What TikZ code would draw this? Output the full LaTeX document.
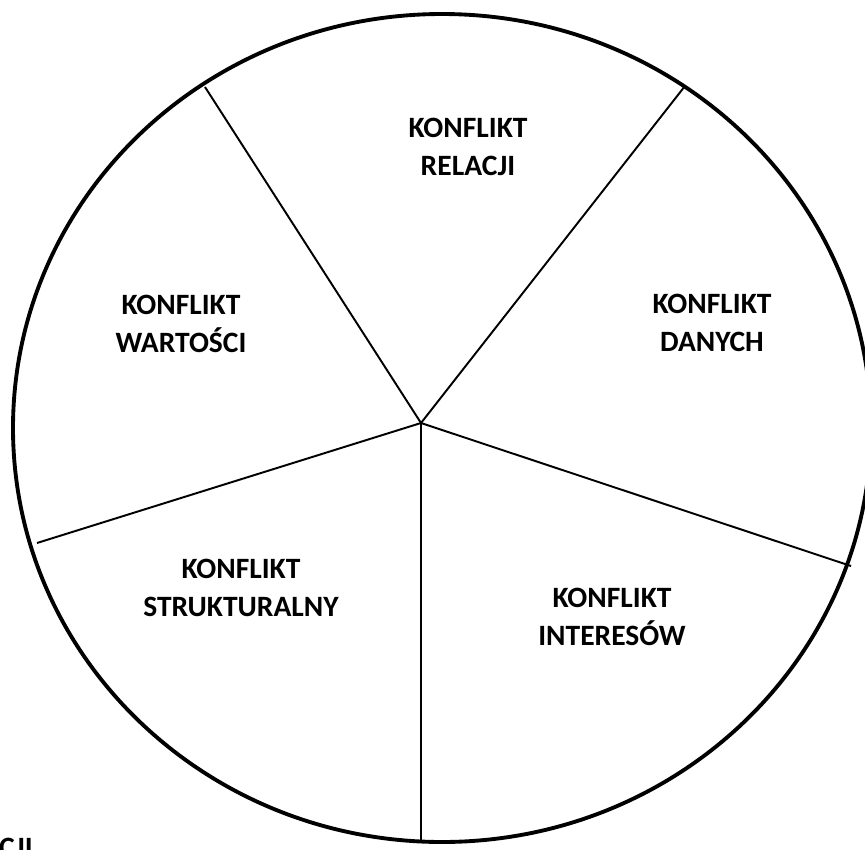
\documentclass[tikz,border=0pt]{standalone}
\usepackage{fontspec}
\setmainfont{Carlito}
\usetikzlibrary{positioning,calc}
\begin{document}
\begin{tikzpicture}[x=0.02cm,y=-0.02cm,
        rim/.style={line width=2.2pt},
        spoke/.style={line width=1.1pt},
        sector/.style={align=center,inner sep=0pt,font=\bfseries\fontsize{16.8}{21.5}\selectfont}]
        \useasboundingbox (0,0) rectangle (865,849);
        \clip (0,0) rectangle (865,849);
        \draw[rim] (442,428) ellipse [x radius=429, y radius=414];
        % spokes of the wheel
        \coordinate (hub) at (421,423);
        \coordinate (tl) at (205,87);
        \coordinate (tr) at (685,86);
        \coordinate (rt) at (851,566);
        \coordinate (bt) at (421,843);
        \coordinate (lt) at (37,543);
        \foreach \e in {tl,tr,rt,bt,lt}
            \draw[spoke] (hub) -- (\e);
        \node[sector] (relacji) at (468,147) {KONFLIKT\\RELACJI};
        \node[sector] (danych) at (712,323) {KONFLIKT\\DANYCH};
        \node[sector] (wartosci) at (181,324) {KONFLIKT\\WARTOŚCI};
        \node[sector] (struktura) at (241,588) {KONFLIKT\\STRUKTURALNY};
        \node[sector] (interesy) at (612,617) {KONFLIKT\\INTERESÓW};
        \node[sector,anchor=base east] (cut) at (33,857) {CJI};
\end{tikzpicture}
\end{document}
